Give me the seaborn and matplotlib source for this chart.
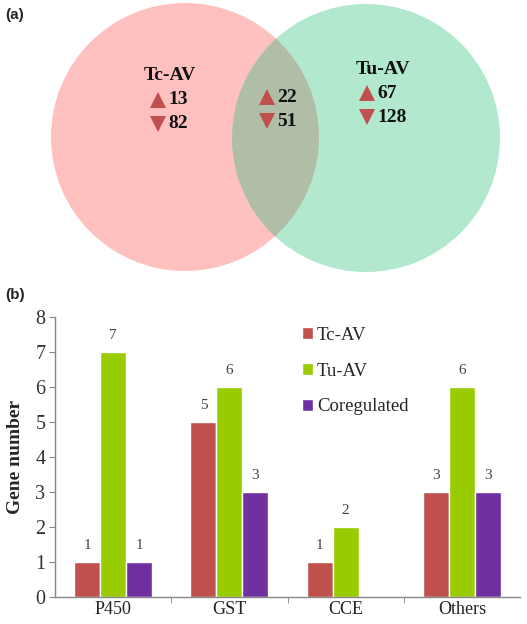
import matplotlib
matplotlib.use("Agg")
import matplotlib.pyplot as plt
from matplotlib.patches import Circle
import seaborn as sns
import pandas as pd

# Venn counts (up, down)
venn_sets = ["Tc-AV", "Tu-AV"]
tc_only = [13, 82]
shared = [22, 51]
tu_only = [67, 128]

# Bar chart data
categories = ["P450", "GST", "CCE", "Others"]
groups = ["Tc-AV", "Tu-AV", "Coregulated"]
tc_counts = [1, 5, 1, 3]
tu_counts = [7, 6, 2, 6]
co_counts = [1, 3, 0, 3]
yticks = [0, 1, 2, 3, 4, 5, 6, 7, 8]

bar_colors = ["#C0504D", "#99CC00", "#7030A0"]

sns.set_style("white")
plt.rcParams["font.family"] = ["Liberation Serif", "DejaVu Serif"]

fig = plt.figure(figsize=(5.27, 6.24), dpi=100)

# (a) Venn diagram, drawn in pixel-like coordinates
ax1 = fig.add_axes([0, 1 - 280 / 624, 1, 280 / 624])
ax1.set_xlim(0, 527)
ax1.set_ylim(280, 0)
ax1.axis("off")

left = Circle((185, 137), 134, facecolor="#FFC0C0", edgecolor="none")
right = Circle((366, 138), 134, facecolor="#B2E8CE", edgecolor="none")
ax1.add_patch(left)
ax1.add_patch(right)
lens = Circle((366, 138), 134, facecolor="#B1BEA7", edgecolor="none")
ax1.add_patch(lens)
lens.set_clip_path(left)

tri = "#C0504D"
txt = dict(fontsize=14, fontweight="bold", color="#111111", va="center")
ax1.text(170, 75, venn_sets[0], ha="center", **txt)
ax1.text(383, 70, venn_sets[1], ha="center", **txt)

blocks = [(158, 100, tc_only), (267, 97, shared), (367, 93, tu_only)]
for x, y, (up, down) in blocks:
    ax1.plot(x, y, marker="^", color=tri, markersize=12, markeredgewidth=0)
    ax1.text(x + 10, y, str(up), ha="left", **txt)
    ax1.plot(x, y + 24, marker="v", color=tri, markersize=12, markeredgewidth=0)
    ax1.text(x + 10, y + 24, str(down), ha="left", **txt)

fig.text(5 / 527, 1 - 15 / 624, "(a)", fontsize=11, fontweight="bold",
         family="Liberation Sans", va="center")

# (b) grouped bar chart
df = pd.DataFrame({
    "category": categories * 3,
    "group": [groups[0]] * 4 + [groups[1]] * 4 + [groups[2]] * 4,
    "count": tc_counts + tu_counts + co_counts,
})

ax2 = fig.add_axes([55 / 527, 27 / 624, 465 / 527, 280 / 624])
sns.barplot(data=df, x="category", y="count", hue="group", order=categories,
            hue_order=groups, palette=bar_colors, width=0.67, saturation=1,
            ax=ax2)

for cont in ax2.containers:
    labels = [f"{int(v)}" if v > 0 else "" for v in cont.datavalues]
    ax2.bar_label(cont, labels=labels, padding=7, fontsize=11, color="#444444")

ax2.set_xlim(-0.5, 3.5)
ax2.set_ylim(0, 8)
ax2.set_yticks(yticks)
ax2.set_xlabel("")
ax2.set_ylabel("Gene number", fontsize=14, fontweight="bold", labelpad=8)
ax2.tick_params(axis="y", labelsize=14.5, length=4, direction="out", left=True,
                color="#888888", labelcolor="#333333", pad=3)
ax2.tick_params(axis="x", labelsize=13, length=0, labelcolor="#222222", pad=3)
ax2.set_xticks([0.5, 1.5, 2.5], minor=True)
ax2.tick_params(axis="x", which="minor", length=4, direction="out",
                bottom=True, color="#888888")
for s in ["top", "right"]:
    ax2.spines[s].set_visible(False)
for s in ["left", "bottom"]:
    ax2.spines[s].set_color("#888888")
    ax2.spines[s].set_linewidth(1)

leg = ax2.legend(loc="upper left", bbox_to_anchor=(0.495, 1.025), frameon=False,
                 fontsize=13.5, handlelength=0.6, handleheight=0.6,
                 handletextpad=0.2, labelspacing=1.0)

fig.text(5 / 527, 1 - 295 / 624, "(b)", fontsize=11, fontweight="bold",
         family="Liberation Sans", va="center")

fig.savefig("out.png", dpi=100)
